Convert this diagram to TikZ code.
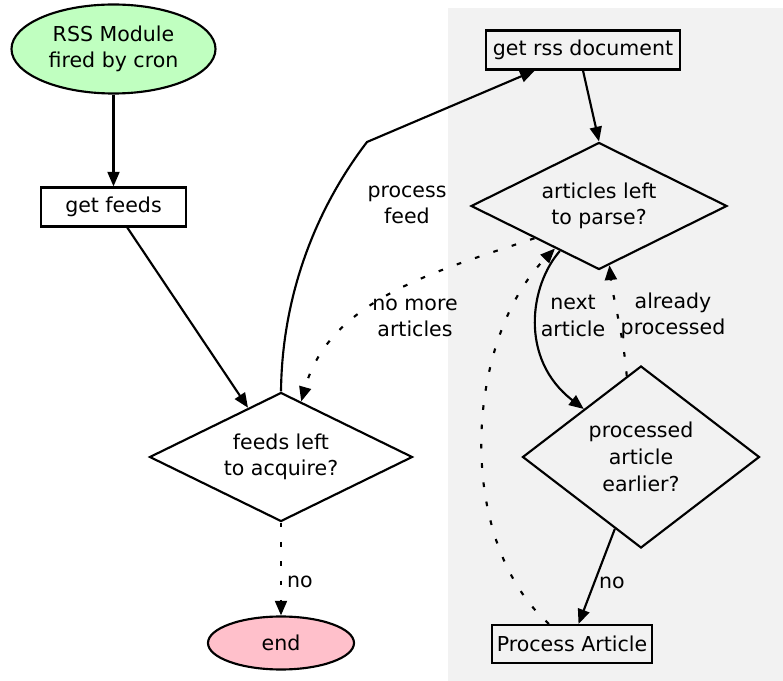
\documentclass[tikz,border=0pt]{standalone}
\usepackage{fontspec}
\setmainfont{DejaVu Sans}
\usepackage{xcolor}
\usetikzlibrary{shapes.geometric,arrows.meta}
\definecolor{startgreen}{RGB}{192,255,192}
\definecolor{endpink}{RGB}{255,192,203}
\definecolor{clustergray}{RGB}{242,242,242}
\tikzstyle{box} = [draw, rectangle, line width=1.6pt, inner sep=0pt]
\tikzstyle{decision} = [draw, diamond, aspect=1.5, line width=1.6pt, inner sep=0pt, align=center]
\tikzstyle{startstop} = [draw, ellipse, line width=1.6pt, inner sep=0pt, align=center]
\tikzstyle{flow} = [line width=1.6pt, -{Triangle[length=11pt,width=9pt]}]
\tikzstyle{flowdot} = [flow, dash pattern=on 3.5pt off 11pt]
\tikzstyle{lbl} = [inner sep=0pt, align=center]

\begin{document}
\begin{tikzpicture}[x=0.75pt, y=-0.75pt, font=\fontsize{15.4}{20}\selectfont]
	\fill[clustergray] (448,8) rectangle (783,681);     % cluster
	\useasboundingbox (0,0) rectangle (783,681);

	\node[startstop, fill=startgreen, minimum width=153pt, minimum height=66.75pt] (rss) at (113.5,49) {RSS Module\\fired by cron};
	\node[box, minimum width=108.75pt, minimum height=29.25pt] (feeds) at (113.5,207) {get feeds};
	\node[decision, minimum width=197.25pt, minimum height=96.75pt] (feedsleft) at (281,457) {feeds left\\to acquire?};
	\node[startstop, fill=endpink, minimum width=109.5pt, minimum height=39.75pt] (stop) at (281,643) {end};
	\node[box, minimum width=145.5pt, minimum height=29.25pt] (getrss) at (583,50) {get rss document};
	\node[decision, minimum width=192pt, minimum height=95.25pt] (articlesleft) at (599,206) {articles left\\to parse?};
	\node[decision, minimum width=177.75pt, minimum height=136.5pt] (processed) at (641,457) {processed\\article\\earlier?};
	\node[box, minimum width=120pt, minimum height=28.5pt] (procart) at (572,644) {Process Article};

	\coordinate (bend) at (367,142);
	\draw[flow] (rss) -- (feeds);
	\draw[flow] (feeds) -- (feedsleft);
	\draw[flow] (feedsleft.north) .. controls +(1,-95) and +(-52,68) .. (bend) -- (getrss);
	\draw[flow] (getrss.south) -- (articlesleft.north);
	\draw[flowdot] (articlesleft.south west) .. controls +(-95,32) and +(29,-103) .. (feedsleft.70);
	\draw[flow] (articlesleft.229) .. controls +(-30,34) and +(-65,-50) .. (processed.140);
	\draw[flowdot] (processed.100) .. controls +(-3,-40) and +(3,30) .. (articlesleft.280);
	\draw[flow] (processed.250) -- (procart.72);
	\draw[flowdot] (procart.139) .. controls +(-95,-85) and +(-90,92) .. (articlesleft.224);
	\draw[flowdot] (feedsleft.south) -- (stop.north);

	\node[lbl] (lprocess) at (407,205) {process\\feed};
	\node[lbl] (lnomore) at (415,318) {no more\\articles};
	\node[lbl] (lnext) at (573,316) {next\\article};
	\node[lbl] (lalready) at (673,316) {already\\processed};
	\node[lbl] (lno) at (612,583) {no};
	\node[lbl] (lnoend) at (300,582) {no};
\end{tikzpicture}
\end{document}
